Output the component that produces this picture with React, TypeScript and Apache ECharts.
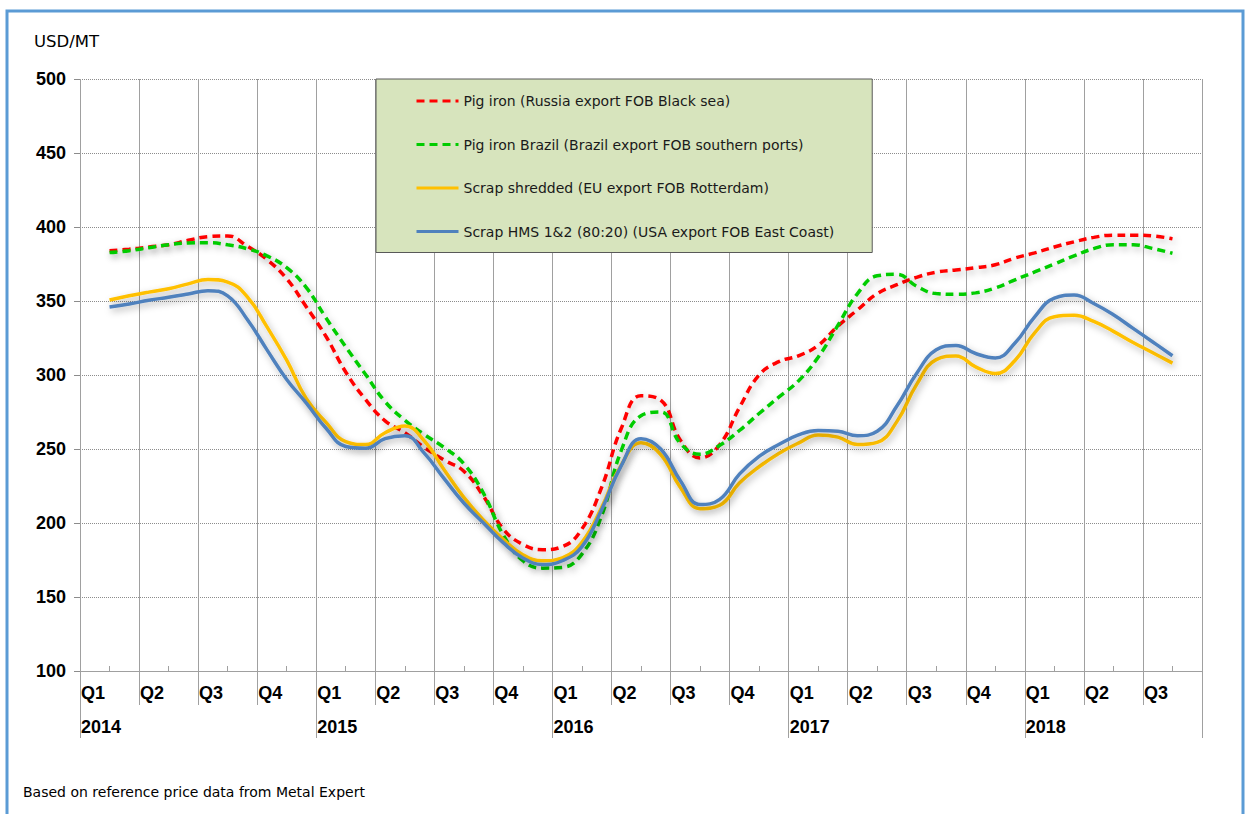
import React, { useEffect, useRef } from "react";
import * as echarts from "echarts";

const months = [
  "2014-02", "2014-03", "2014-04", "2014-05", "2014-06", "2014-07", "2014-08", "2014-09", "2014-10", "2014-11", "2014-12",
  "2015-01", "2015-02", "2015-03", "2015-04", "2015-05", "2015-06", "2015-07", "2015-08", "2015-09", "2015-10", "2015-11", "2015-12",
  "2016-01", "2016-02", "2016-03", "2016-04", "2016-05", "2016-06", "2016-07", "2016-08", "2016-09", "2016-10", "2016-11", "2016-12",
  "2017-01", "2017-02", "2017-03", "2017-04", "2017-05", "2017-06", "2017-07", "2017-08", "2017-09", "2017-10", "2017-11", "2017-12",
  "2018-01", "2018-02", "2018-03", "2018-04", "2018-05", "2018-06", "2018-07", "2018-08",
];

const pigIronRussia = [
  384, 385, 386.5, 388, 391, 393.5, 394, 387, 378, 365,
  346, 326, 302, 283.5, 269, 261, 251, 242.5, 235, 218,
  196, 185.5, 182, 184, 196, 224, 264, 286, 283, 256,
  244, 253, 278, 300, 309, 313, 320, 333, 344, 355,
  361, 366, 369.5, 371, 372.5, 374.5, 379, 382.5, 386.5, 390,
  393, 394.5, 394.5, 394, 392,
];

const pigIronBrazil = [
  382.7, 384, 386, 388, 389.2, 389.4, 388, 385.3, 380.5, 372.5,
  359, 338.5, 319, 300.5, 282, 269.5, 259.7, 251, 240, 220,
  192, 174.5, 169.5, 170, 179, 205, 249, 272.5, 275, 253.8,
  246.5, 252.5, 262.5, 274, 285, 296, 312, 333.5, 355, 367,
  368, 360, 355, 354.5, 355.5, 358.8, 364.3, 369.6, 375, 380.5,
  385.4, 388, 388, 385.5, 382.3,
];

const scrapShredded = [
  350.7, 353.5, 356, 358.3, 361.6, 364.5, 362.8, 352.8, 332.5, 310,
  284, 268, 255, 253, 261, 265.5, 255.4, 236, 217.3, 202,
  189, 178.6, 174.5, 176.5, 187, 210.5, 239.3, 254.2, 246.3, 224,
  209.7, 212, 227, 238, 247, 254, 259.5, 258, 253, 254.5,
  268.5, 293.5, 310.4, 312.8, 305.5, 301, 309.8, 328.5, 339.4, 340.3,
  336.2, 329.5, 322, 315, 308,
];

const scrapHMS = [
  346, 348, 350.5, 352.5, 354.7, 357, 353.5, 337.5, 317, 297,
  281, 264, 251.7, 250.5, 257, 259, 247, 230, 213.5, 200,
  186.7, 176.4, 172, 174.5, 184, 209, 238.8, 257, 250, 228.6,
  212.5, 216, 233, 245, 253, 259.5, 262.5, 262, 259, 262,
  279, 301, 317, 320, 314.5, 311.5, 321.6, 339.3, 352, 354,
  348.3, 340.7, 331.5, 322.3, 313,
];

const quarterLabels = ["Q1", "Q2", "Q3", "Q4"];
const yearLabels = ["2014", "2015", "2016", "2017", "2018"];
const quarterCount = 19; // Q1 2014 .. Q3 2018
const yTicks = { min: 100, max: 500, step: 50 };

const seriesNames = [
  "Pig iron (Russia export FOB Black sea)",
  "Pig iron Brazil (Brazil export FOB southern ports)",
  "Scrap shredded (EU export FOB Rotterdam)",
  "Scrap HMS 1&2 (80:20) (USA export FOB East Coast)",
];

const FONT = "'DejaVu Sans', Verdana, sans-serif";
const BOLD = "'Liberation Sans', Arial, sans-serif";
const GRID = "#a0a0a0";

function monthPos(m: string) {
  const [y, mo] = m.split("-").map(Number);
  return (y - 2014) * 12 + (mo - 1) + 0.5;
}

export default function App() {
  const ref = useRef<HTMLDivElement>(null);

  useEffect(() => {
    if (!ref.current) return;
    const chart = echarts.init(ref.current, undefined, { renderer: "svg" });
    const xs = months.map(monthPos);
    const maxX = quarterCount * 3;
    const mids = Array.from({ length: quarterCount }, (_, i) => i * 3 + 1.5);
    const yearTicks = [...yearLabels.map((_, i) => i * 12), maxX];

    const mk = (name: string, vals: number[], color: string, dashed: boolean) => ({
      name,
      type: "line",
      xAxisIndex: 0,
      yAxisIndex: 0,
      data: xs.map((x, i) => [x, vals[i]]),
      symbol: "none",
      smooth: 0.45,
      itemStyle: { color },
      lineStyle: {
        color,
        width: 3.5,
        type: dashed ? [8, 5] : "solid",
        cap: "butt",
        shadowColor: "rgba(0,0,0,0.3)",
        shadowBlur: 7,
        shadowOffsetX: 2,
        shadowOffsetY: 3,
      },
    });

    chart.setOption({
      animation: false,
      backgroundColor: "#ffffff",
      title: [
        {
          text: "USD/MT",
          left: 34,
          top: 33,
          padding: 0,
          textStyle: { fontFamily: FONT, fontSize: 16.5, fontWeight: "normal", color: "#000" },
        },
        {
          text: "Based on reference price data from Metal Expert",
          left: 23,
          top: 785,
          padding: 0,
          textStyle: { fontFamily: FONT, fontSize: 14, fontWeight: "normal", color: "#000" },
        },
      ],
      legend: {
        orient: "vertical",
        left: 376,
        top: 79,
        backgroundColor: "#d7e4bd",
        borderColor: "#595959",
        borderWidth: 1,
        padding: [15, 38, 14, 39],
        itemWidth: 42,
        itemHeight: 14,
        itemGap: 29.5,
        selectedMode: false,
        textStyle: { fontFamily: FONT, fontSize: 14, color: "#1a1a1a" },
        itemStyle: { opacity: 0, borderWidth: 0 },
        lineStyle: { width: 3, shadowBlur: 0, shadowColor: "rgba(0,0,0,0)", shadowOffsetX: 0, shadowOffsetY: 0 },
        data: seriesNames,
      },
      grid: { left: 80, right: 47, top: 79, bottom: 143 },
      xAxis: [
        {
          type: "value",
          min: 0,
          max: maxX,
          interval: 3,
          position: "bottom",
          axisLine: { show: true, lineStyle: { color: GRID, width: 1 } },
          axisTick: { show: true, length: 34, lineStyle: { color: GRID } },
          splitLine: { show: true, lineStyle: { color: GRID, width: 1 } },
          axisLabel: {
            align: "left",
            margin: 5,
            formatter: (v: number) => {
              if (v >= maxX) return "";
              const qi = Math.round(v / 3) % 4;
              const yi = Math.floor(Math.round(v) / 12);
              return qi === 0
                ? `{q|${quarterLabels[qi]}}\n{y|${yearLabels[yi]}}`
                : `{q|${quarterLabels[qi]}}`;
            },
            rich: {
              q: { fontFamily: BOLD, fontWeight: "bold", fontSize: 18, color: "#000", lineHeight: 34, padding: [0, 0, 0, 1] },
              y: { fontFamily: BOLD, fontWeight: "bold", fontSize: 18, color: "#000", lineHeight: 34, padding: [0, 0, 0, 1] },
            },
          },
        },
        {
          type: "value",
          min: 0,
          max: maxX,
          position: "bottom",
          axisLine: { show: false },
          axisTick: { show: true, inside: true, length: 5, customValues: mids, lineStyle: { color: GRID } },
          axisLabel: { show: false },
          splitLine: { show: false },
        },
        {
          type: "value",
          min: 0,
          max: maxX,
          position: "bottom",
          axisLine: { show: false },
          axisTick: { show: true, length: 67, customValues: yearTicks, lineStyle: { color: GRID } },
          axisLabel: { show: false },
          splitLine: { show: false },
        },
      ],
      yAxis: {
        type: "value",
        min: yTicks.min,
        max: yTicks.max,
        interval: yTicks.step,
        axisLine: { show: false },
        axisTick: { show: true, length: 6, lineStyle: { color: "#8c8c8c" } },
        axisLabel: { margin: 14, fontFamily: BOLD, fontWeight: "bold", fontSize: 18, color: "#000" },
        splitLine: { show: true, lineStyle: { color: "#8c8c8c", type: "dotted", width: 1 } },
      },
      graphic: [
        {
          type: "rect",
          silent: true,
          z: 100,
          shape: { x: 7, y: 11, width: 1236, height: 830 },
          style: { fill: "none", stroke: "#5b9bd5", lineWidth: 3 },
        },
      ],
      series: [
        mk(seriesNames[0], pigIronRussia, "#ff0000", true),
        mk(seriesNames[1], pigIronBrazil, "#00cc00", true),
        mk(seriesNames[2], scrapShredded, "#ffc000", false),
        mk(seriesNames[3], scrapHMS, "#4f81bd", false),
      ],
    });
    return () => chart.dispose();
  }, []);

  return (
    <div
      ref={ref}
      style={{ position: "absolute", left: 0, top: 0, width: 1249, height: 814, background: "#fff" }}
    />
  );
}
